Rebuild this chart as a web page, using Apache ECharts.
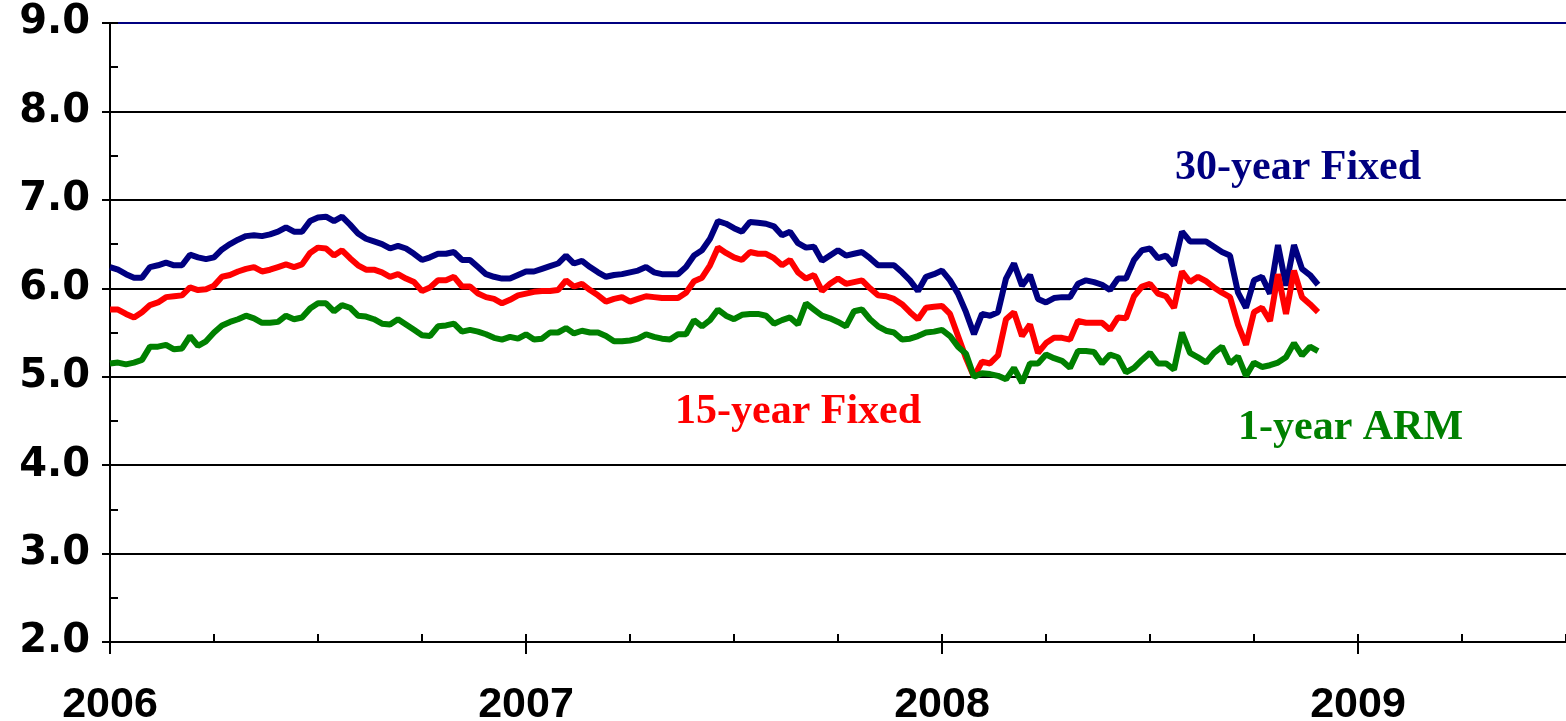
<!DOCTYPE html>
<html lang="en">
<head>
  <meta charset="UTF-8">
  <title>Mortgage rates 2006-2008</title>
  <script src="https://cdn.jsdelivr.net/npm/echarts@6/dist/echarts.min.js"></script>
  <style>
    html, body { margin: 0; padding: 0; background: #fff; }
    #main { width: 1566px; height: 721px; }
  </style>
</head>
<body>
  <div id="main"></div>

  <script>
    // weekly readings, first week at the start of 2006
    const startYear = 2006;
    const weeksPerYear = 52;

    const rate30 = [
      6.24, 6.21, 6.16, 6.12, 6.12, 6.24, 6.26, 6.29, 6.26, 6.26, 6.38, 6.35, 6.33, 6.35, 6.44, 6.50, 6.55, 6.59, 6.60, 6.59, 6.61, 6.64, 6.69, 6.64, 6.64, 6.76,
      6.80, 6.81, 6.76, 6.81, 6.72, 6.62, 6.56, 6.53, 6.50, 6.45, 6.48, 6.45, 6.39, 6.32, 6.35, 6.39, 6.39, 6.41, 6.32, 6.32, 6.24, 6.16, 6.13, 6.11, 6.11, 6.15,
      6.19, 6.19, 6.22, 6.25, 6.28, 6.37, 6.28, 6.31, 6.24, 6.18, 6.13, 6.15, 6.16, 6.18, 6.20, 6.24, 6.18, 6.16, 6.16, 6.16, 6.24, 6.37, 6.43, 6.56, 6.76,
      6.73, 6.68, 6.64, 6.75, 6.74, 6.73, 6.70, 6.60, 6.64, 6.51, 6.46, 6.47, 6.31, 6.37, 6.43, 6.37, 6.39, 6.41, 6.34, 6.26, 6.26, 6.26, 6.18, 6.09, 5.97, 6.13, 6.16,
      6.20, 6.09, 5.94, 5.73, 5.48, 5.71, 5.69, 5.73, 6.11, 6.28, 6.03, 6.15, 5.88, 5.84, 5.89, 5.90, 5.90, 6.05, 6.09, 6.07, 6.04, 5.98, 6.11, 6.11, 6.32,
      6.43, 6.45, 6.34, 6.37, 6.26, 6.64, 6.53, 6.53, 6.53, 6.47, 6.41, 6.37, 5.95, 5.78, 6.09, 6.13, 5.94, 6.49, 6.03, 6.49, 6.22, 6.15, 6.04
    ];

    const rate15 = [
      5.76, 5.76, 5.71, 5.67, 5.73, 5.81, 5.84, 5.90, 5.91, 5.92, 6.01, 5.98, 5.99, 6.03, 6.13, 6.15, 6.19, 6.22, 6.24, 6.19, 6.21, 6.24, 6.27, 6.24, 6.27, 6.40,
      6.46, 6.45, 6.37, 6.43, 6.34, 6.26, 6.21, 6.21, 6.18, 6.13, 6.16, 6.11, 6.07, 5.97, 6.01, 6.09, 6.09, 6.13, 6.02, 6.02, 5.94, 5.90, 5.88, 5.83, 5.87, 5.92,
      5.94, 5.96, 5.97, 5.97, 5.98, 6.09, 6.02, 6.05, 5.98, 5.92, 5.85, 5.88, 5.90, 5.85, 5.88, 5.91, 5.90, 5.89, 5.89, 5.89, 5.95, 6.08, 6.12, 6.26, 6.46,
      6.40, 6.35, 6.32, 6.41, 6.39, 6.39, 6.34, 6.26, 6.32, 6.18, 6.11, 6.15, 5.97, 6.05, 6.11, 6.05, 6.07, 6.09, 6.00, 5.92, 5.91, 5.88, 5.82, 5.73, 5.65, 5.78, 5.79,
      5.80, 5.71, 5.46, 5.21, 5.00, 5.17, 5.15, 5.24, 5.65, 5.73, 5.46, 5.59, 5.27, 5.38, 5.44, 5.44, 5.42, 5.63, 5.61, 5.61, 5.61, 5.53, 5.67, 5.66, 5.91,
      6.02, 6.05, 5.94, 5.91, 5.78, 6.19, 6.07, 6.13, 6.08, 6.01, 5.95, 5.90, 5.59, 5.36, 5.73, 5.78, 5.63, 6.16, 5.71, 6.20, 5.90, 5.82, 5.73
    ];

    const rateArm = [
      5.15, 5.16, 5.14, 5.16, 5.19, 5.34, 5.34, 5.36, 5.31, 5.32, 5.46, 5.35, 5.40, 5.50, 5.58, 5.62, 5.65, 5.69, 5.66, 5.61, 5.61, 5.62, 5.69, 5.65, 5.67, 5.77,
      5.83, 5.83, 5.74, 5.81, 5.78, 5.69, 5.68, 5.65, 5.60, 5.59, 5.65, 5.59, 5.53, 5.47, 5.46, 5.57, 5.58, 5.60, 5.51, 5.53, 5.51, 5.48, 5.44, 5.42, 5.45, 5.43,
      5.48, 5.42, 5.43, 5.50, 5.50, 5.55, 5.49, 5.52, 5.50, 5.50, 5.46, 5.40, 5.40, 5.41, 5.43, 5.48, 5.45, 5.43, 5.42, 5.48, 5.48, 5.64, 5.57, 5.64, 5.76,
      5.69, 5.65, 5.70, 5.71, 5.71, 5.69, 5.60, 5.64, 5.67, 5.59, 5.83, 5.76, 5.69, 5.66, 5.62, 5.57, 5.74, 5.76, 5.65, 5.57, 5.52, 5.50, 5.42, 5.43, 5.46, 5.50, 5.51,
      5.53, 5.46, 5.34, 5.26, 5.00, 5.04, 5.03, 5.01, 4.97, 5.10, 4.93, 5.15, 5.15, 5.25, 5.21, 5.18, 5.10, 5.29, 5.29, 5.28, 5.15, 5.25, 5.22, 5.05, 5.10,
      5.19, 5.27, 5.15, 5.15, 5.08, 5.50, 5.27, 5.22, 5.16, 5.27, 5.34, 5.15, 5.23, 5.01, 5.16, 5.11, 5.13, 5.16, 5.22, 5.38, 5.24, 5.34, 5.29
    ];

    const seriesNames = ['30-year Fixed', '15-year Fixed', '1-year ARM'];
    const seriesColors = ['#000080', '#ff0000', '#008000'];

    // put each weekly value on the year scale
    function toPoints(values) {
      return values.map((v, i) => [startYear + i / weeksPerYear, v]);
    }

    const chart = echarts.init(document.getElementById('main'));

    const tickStyle = { color: '#000', width: 2 };
    const labelFont = 'bold 42px "Liberation Serif", "Times New Roman", serif';

    const option = {
      backgroundColor: '#fff',
      animation: false,
      grid: { left: 110, right: 0, top: 23, bottom: 79, containLabel: false, outerBoundsMode: 'none' },
      xAxis: [
        {
          type: 'value',
          position: 'bottom',
          min: 2006,
          max: 2009.5,
          interval: 1,
          axisLine: { show: true, lineStyle: tickStyle },
          axisTick: { show: true, length: 12, lineStyle: tickStyle },
          axisLabel: {
            formatter: v => String(v),
            showMaxLabel: false,
            fontFamily: 'Liberation Sans',
            fontWeight: 'bold',
            fontSize: 43,
            color: '#000',
            margin: 42
          },
          splitLine: { show: false }
        },
        {
          // quarterly ticks pointing into the plot
          type: 'value',
          position: 'bottom',
          offset: 0,
          min: 2006,
          max: 2009.5,
          interval: 0.25,
          axisLine: { show: false },
          axisTick: { show: true, inside: true, length: 8, lineStyle: tickStyle },
          axisLabel: { show: false },
          splitLine: { show: false }
        }
      ],
      yAxis: [
        {
          type: 'value',
          position: 'left',
          min: 2,
          max: 9,
          interval: 1,
          axisLine: { show: true, lineStyle: tickStyle },
          axisTick: { show: true, length: 8, lineStyle: tickStyle },
          axisLabel: {
            formatter: v => v.toFixed(1),
            fontFamily: 'DejaVu Sans',
            fontWeight: 'bold',
            fontSize: 40,
            color: '#000',
            margin: 20
          },
          splitLine: {
            show: true,
            lineStyle: {
              width: 2,
              color: ['#000', '#000', '#000', '#000', '#000', '#000', '#000', '#000080']
            }
          }
        },
        {
          // half-step ticks pointing into the plot
          type: 'value',
          position: 'left',
          offset: 0,
          min: 2,
          max: 9,
          interval: 0.5,
          axisLine: { show: false },
          axisTick: { show: true, inside: true, length: 8, lineStyle: tickStyle },
          axisLabel: { show: false },
          splitLine: { show: false }
        }
      ],
      series: [rate30, rate15, rateArm].map((vals, k) => ({
        name: seriesNames[k],
        type: 'line',
        xAxisIndex: 0,
        yAxisIndex: 0,
        data: toPoints(vals),
        showSymbol: false,
        lineStyle: { width: 6, color: seriesColors[k] },
        itemStyle: { color: seriesColors[k] }
      })),
      graphic: [
        { type: 'text', x: 1175, y: 168, style: { text: seriesNames[0], font: labelFont, fill: seriesColors[0], verticalAlign: 'middle' } },
        { type: 'text', x: 675, y: 412, style: { text: seriesNames[1], font: labelFont, fill: seriesColors[1], verticalAlign: 'middle' } },
        { type: 'text', x: 1238, y: 428, style: { text: seriesNames[2], font: labelFont, fill: seriesColors[2], verticalAlign: 'middle' } }
      ]
    };

    chart.setOption(option);
  </script>
</body>
</html>
